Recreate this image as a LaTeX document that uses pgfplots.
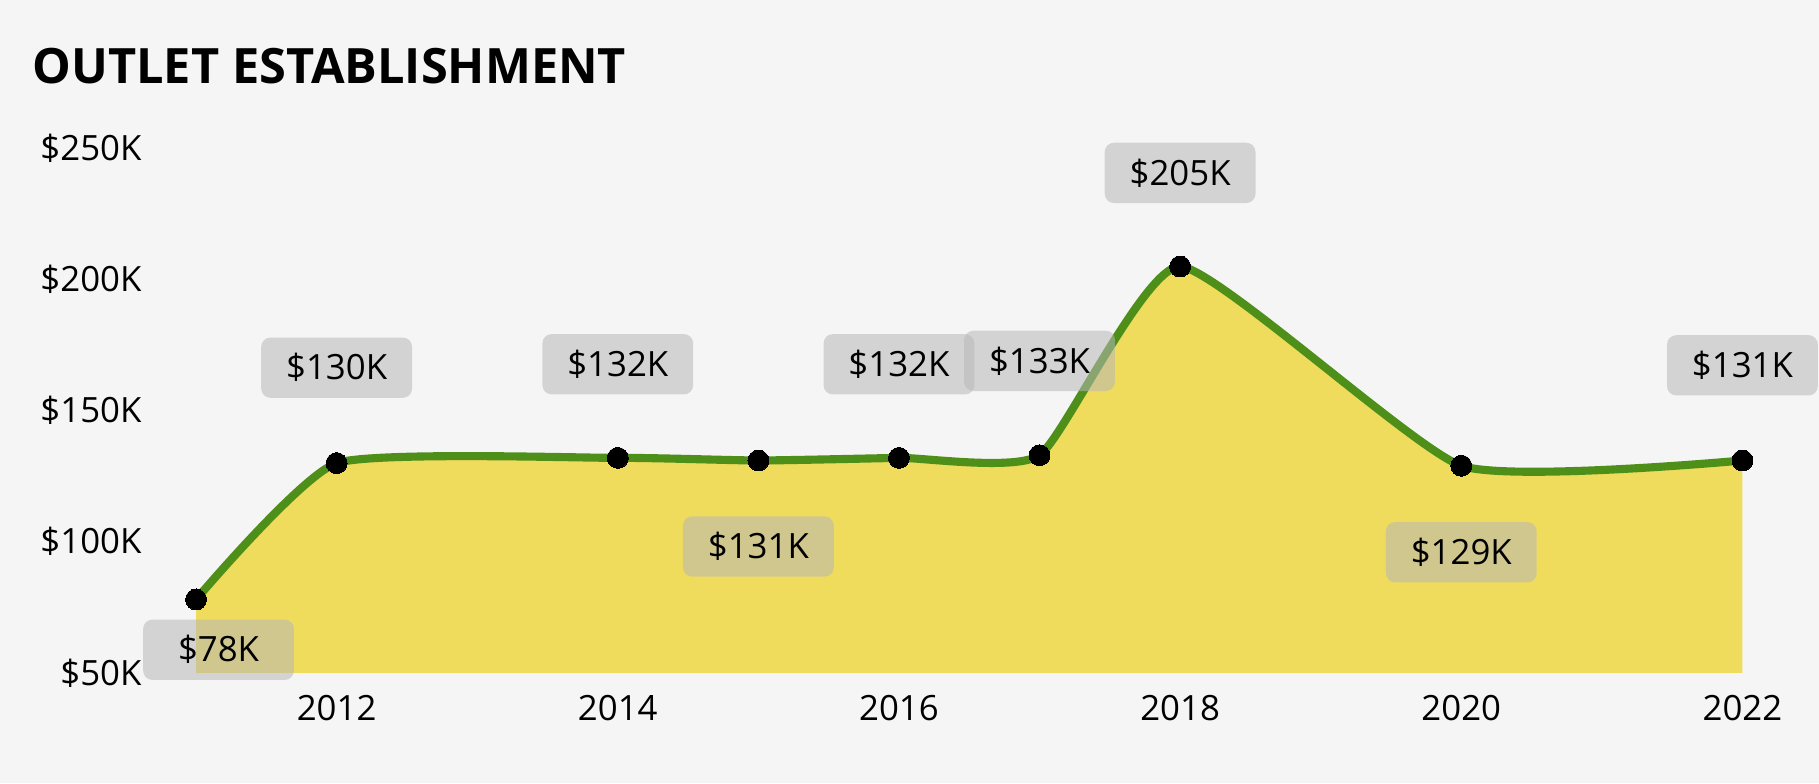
\documentclass[border=0pt]{standalone}
\usepackage{fontspec}
\setmainfont{Open Sans}
\usepackage{pgfplots}
\pgfplotsset{compat=1.18}
\definecolor{bg}{HTML}{F5F5F5}
\definecolor{ln}{HTML}{4E8F1A}
\definecolor{ar}{HTML}{EFDB5C}
\definecolor{bx}{HTML}{B8B8B8}
\begin{document}
\begin{tikzpicture}
\fill[bg] (-84.5pt,-47.5pt) rectangle (699.5pt,290pt);
\node[anchor=base west,font=\fontsize{21}{25}\selectfont\bfseries] at (-74pt,254pt) {OUTLET ESTABLISHMENT};
\begin{axis}[at={(0,0)},anchor=south west,scale only axis,width=666.5pt,height=226pt,
 xmin=2011,xmax=2022,ymin=50,ymax=250,axis line style={draw=none},clip=false,
 xtick={2012,2014,...,2022},ytick={50,100,...,250},
 /pgf/number format/assume math mode=true,
 xticklabel={\pgfmathprintnumber[1000 sep={}]{\tick}},
 yticklabel={\$\pgfmathprintnumber{\tick}K},
 ticklabel style={font=\fontsize{15}{18}\selectfont},
 yticklabel style={anchor=east,xshift=-20pt},
 xticklabel style={yshift=-6pt},
 major tick length=0pt, tick style={draw=none}]
\addplot[draw=none,fill=ar,smooth,tension=0.3] coordinates {(2011,78)(2012,130)(2014,132)(2015,131)(2016,132)(2017,133)(2018,205)(2020,129)(2022,131)} \closedcycle;
\addplot[ln,line width=3.5pt,smooth,tension=0.3,mark=*,mark size=4.5pt,mark options={black,fill=black,line width=0pt}] coordinates {(2011,78)(2012,130)(2014,132)(2015,131)(2016,132)(2017,133)(2018,205)(2020,129)(2022,131)};
\tikzset{lb/.style={fill=bx,fill opacity=0.55,text opacity=1,rounded corners=4pt,minimum width=65pt,minimum height=26pt,font=\fontsize{15}{18}\selectfont}}
\node[lb] at (axis cs:2011.16,58.8) {\$78K};
\node[lb] at (axis cs:2012,166.4) {\$130K};
\node[lb] at (axis cs:2014,167.7) {\$132K};
\node[lb] at (axis cs:2015,98.2) {\$131K};
\node[lb] at (axis cs:2016,167.7) {\$132K};
\node[lb] at (axis cs:2017,169) {\$133K};
\node[lb] at (axis cs:2018,240.7) {\$205K};
\node[lb] at (axis cs:2020,96) {\$129K};
\node[lb] at (axis cs:2022,167.3) {\$131K};
\end{axis}
\end{tikzpicture}
\end{document}
